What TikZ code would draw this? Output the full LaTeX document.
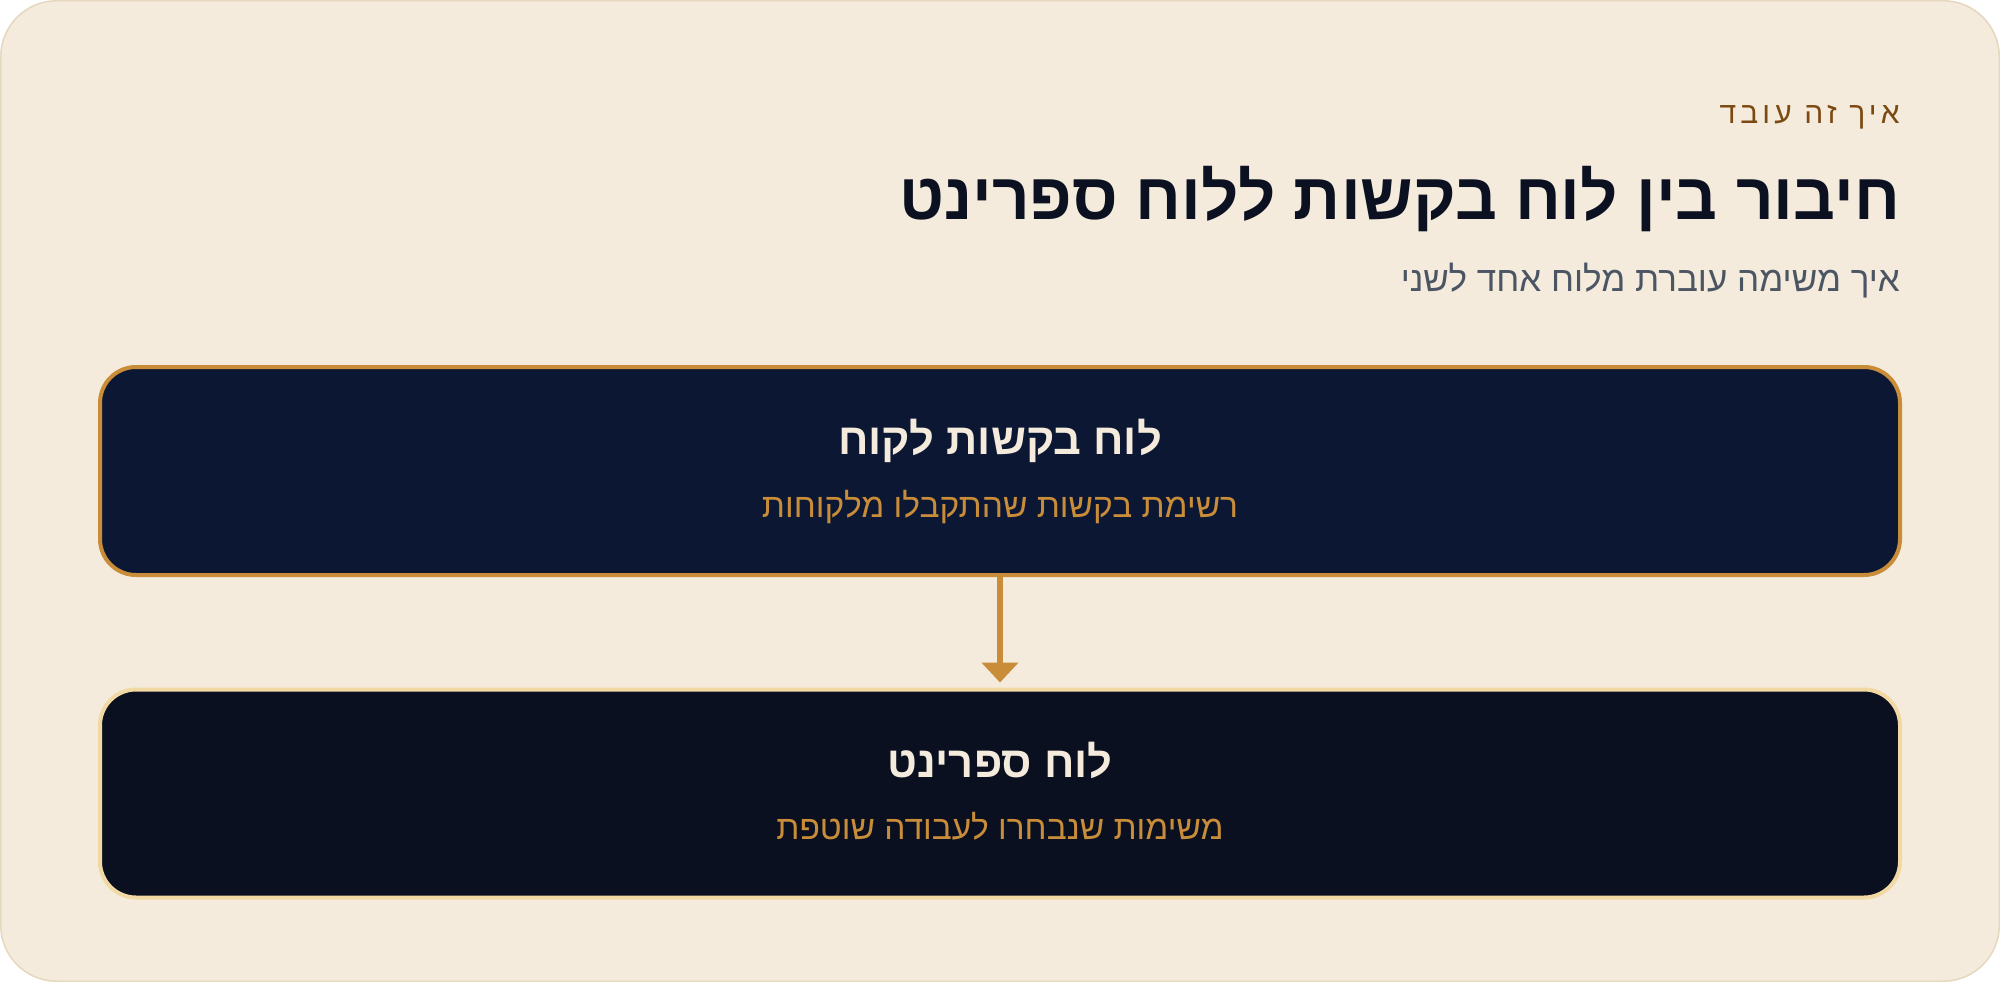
\documentclass[tikz,border=0pt]{standalone}
\usepackage{fontspec}
\usetikzlibrary{arrows.meta}
\TeXXeTstate=1
\newfontfamily\heb[Script=Hebrew]{Liberation Sans}
\newfontfamily\hebsp[Script=Hebrew,LetterSpace=14]{Liberation Sans}
\definecolor{bgc}{HTML}{F4EBDC}
\definecolor{bgline}{HTML}{E5D8BF}
\definecolor{eyec}{HTML}{7B4A12}
\definecolor{titlec}{HTML}{0B1120}
\definecolor{subc}{HTML}{4B5563}
\definecolor{boxa}{HTML}{0C1833}
\definecolor{boxb}{HTML}{0A1020}
\definecolor{gold}{HTML}{C98D3A}
\definecolor{lightgold}{HTML}{F2D9A4}
\definecolor{cream}{HTML}{F4EBDC}
\tikzset{
  panel/.style={rounded corners=36pt, line width=4pt, minimum width=1800pt, minimum height=208pt, inner sep=0pt},
  boxtitle/.style={text=cream, font=\heb\bfseries\fontsize{43.5}{48}\selectfont, anchor=base, inner sep=0pt},
  boxsub/.style={text=gold, font=\heb\fontsize{33.5}{38}\selectfont, anchor=base, inner sep=0pt},
  flow/.style={draw=gold, line width=6pt, -{Triangle[width=36pt,length=20pt]}, shorten >=5pt}
}
\begin{document}
\begin{tikzpicture}[x=1pt,y=-1pt]
\path[use as bounding box] (0,0) rectangle (2000,982);
\path[fill=bgc, draw=bgline, line width=1.5pt, rounded corners=56pt] (0.75,0.75) rectangle (1999.25,981.25);
\node[anchor=base east, inner sep=0pt, text=eyec, font=\hebsp\fontsize{30}{34}\selectfont] (eyebrow) at (1900,123) {\beginR איך זה עובד\endR};
\node[anchor=base east, inner sep=0pt, text=titlec, font=\heb\bfseries\fontsize{65.5}{72}\selectfont] (title) at (1900,219) {\beginR חיבור בין לוח בקשות ללוח ספרינט\endR};
\node[anchor=base east, inner sep=0pt, text=subc, font=\heb\fontsize{35}{40}\selectfont] (subtitle) at (1900,291) {\beginR איך משימה עוברת מלוח אחד לשני\endR};
\node[panel, draw=gold, fill=boxa] (boxA) at (1000,471) {};
\node[boxtitle] (boxAtitle) at (1000,454) {\beginR לוח בקשות לקוח\endR};
\node[boxsub] (boxAsub) at (1000,517) {\beginR רשימת בקשות שהתקבלו מלקוחות\endR};
\node[panel, draw=lightgold, fill=boxb] (boxB) at (1000,793.5) {};
\node[boxtitle] (boxBtitle) at (1000,777) {\beginR לוח ספרינט\endR};
\node[boxsub] (boxBsub) at (1000,839) {\beginR משימות שנבחרו לעבודה שוטפת\endR};
\draw[flow] (boxA.south) -- (boxB.north);
\end{tikzpicture}
\end{document}
